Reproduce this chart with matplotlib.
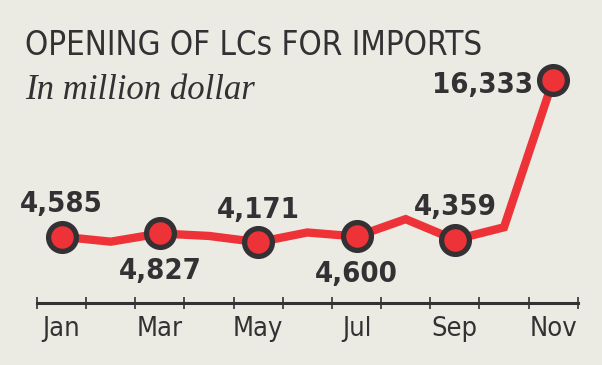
import matplotlib
matplotlib.use('Agg')
import matplotlib.pyplot as plt
from matplotlib import font_manager

# dados (milhoes de dolares)
meses   = ['Jan', 'Feb', 'Mar', 'Apr', 'May', 'Jun', 'Jul', 'Aug', 'Sep', 'Oct', 'Nov']
valores = [4585, 4210, 4827, 4640, 4171, 4900, 4600, 5900, 4359, 5290, 16333]
rotulos = ['4,585', '', '4,827', '', '4,171', '', '4,600', '', '4,359', '', '16,333']

# cores
fundo    = '#ebeae3'
vermelho = '#ee3338'
escuro   = '#333133'

# fonte condensada (DejaVu Sans Condensed)
def fonte(tam, peso='normal'):
    return font_manager.FontProperties(family='DejaVu Sans', stretch='condensed',
                                       weight=peso, size=tam)

nomes = {f.name for f in font_manager.fontManager.ttflist}
serif = 'Liberation Serif' if 'Liberation Serif' in nomes else 'DejaVu Serif'

fig = plt.figure(figsize=(6.02, 3.65), dpi=100)
fig.patch.set_facecolor(fundo)
ax = fig.add_axes([37/602, 62/365, 540.7/602, 263/365])
ax.set_facecolor('none')

x = list(range(len(meses)))
ax.plot(x, valores, color=vermelho, lw=6, solid_joinstyle='miter', zorder=2, clip_on=False)
xm = x[::2]
ym = valores[::2]
ax.plot(xm, ym, ls='none', marker='o', ms=20, mfc=vermelho, mec=escuro, mew=3.8,
        zorder=3, clip_on=False)

# rotulos dos pontos
for i, (xi, yi, r) in enumerate(zip(x, valores, rotulos)):
    if not r:
        continue
    if i == len(meses) - 1:
        dx, dy, ha = -14.5, -9, 'right'
    elif i in (2, 6):
        dx, dy, ha = 0, -33, 'center'
    else:
        dx, dy, ha = 0, 17.5, 'center'
    ax.annotate(r, (xi, yi), xytext=(dx, dy), textcoords='offset points',
                ha=ha, va='baseline', fontproperties=fonte(21, 'bold'),
                color=escuro, zorder=4)

# eixos
ax.set_xlim(-0.5, 10.5)
ax.set_ylim(-390, 19340)
for s in ['left', 'right', 'top']:
    ax.spines[s].set_visible(False)
ax.spines['bottom'].set_linewidth(2.2)
ax.spines['bottom'].set_color(escuro)
ax.set_yticks([])
ax.set_xticks([i - 0.5 for i in range(len(meses) + 1)])
ax.set_xticklabels([])
ax.tick_params(axis='x', which='major', direction='inout', length=8.5, width=1.2, color=escuro)
ax.set_xticks(xm, minor=True)
ax.set_xticklabels(meses[::2], minor=True, fontproperties=fonte(19.5), color=escuro)
ax.tick_params(axis='x', which='minor', length=0, pad=9)

# titulo
fig.text(25/602, 1 - 55/365, 'OPENING OF LCs FOR IMPORTS', fontproperties=fonte(23.7),
         color=escuro, ha='left', va='baseline')
fig.text(25/602, 1 - 99/365, 'In million dollar', fontsize=25, family=serif,
         style='italic', color=escuro, ha='left', va='baseline')

plt.savefig('out.png', dpi=100, facecolor=fundo)
